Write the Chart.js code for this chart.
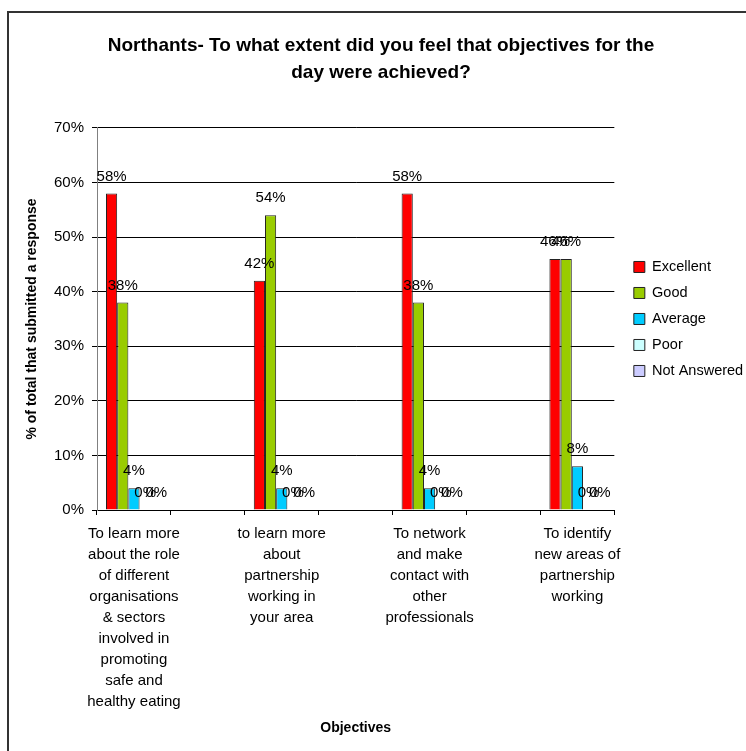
<!DOCTYPE html>
<html>
<head>
<meta charset="utf-8">
<script src="https://cdn.jsdelivr.net/npm/chart.js@4.4.1/dist/chart.umd.min.js"></script>
<style>
    html, body { margin: 0; padding: 0; background: #fff; overflow: hidden; width: 746px; height: 751px; }
    #frame { position: absolute; left: 7px; top: 11px; width: 800px; height: 800px;
             border-left: 2px solid #333; border-top: 2px solid #333; }
    #chart { position: absolute; left: 0; top: 0; }
</style>
</head>
<body>
<div id="frame"></div>
<canvas id="chart" width="762" height="751"></canvas>
<script>
const objectives = [
    ["To learn more", "about the role", "of different", "organisations", "& sectors", "involved in", "promoting", "safe and", "healthy eating"],
    ["to learn more", "about", "partnership", "working in", "your area"],
    ["To network", "and make", "contact with", "other", "professionals"],
    ["To identify", "new areas of", "partnership", "working"]
];
const excellent   = [58, 42, 58, 46];
const good        = [38, 54, 38, 46];
const average     = [4, 4, 4, 8];
const poor        = [0, 0, 0, 0];
const notAnswered = [0, 0, 0, 0];
const yTicks = [0, 10, 20, 30, 40, 50, 60, 70];

// the original sheet has an empty category between each objective
function spread(arr, blank) {
    const out = [];
    arr.forEach(function (v, i) {
        if (i > 0) out.push(blank);
        out.push(v);
    });
    return out;
}

const font = 'Arial, "Liberation Sans", sans-serif';
Chart.defaults.font.family = font;
Chart.defaults.color = "#000";

const barLabels = {
    id: "barLabels",
    afterDatasetsDraw(chart) {
        const ctx = chart.ctx;
        ctx.save();
        ctx.font = "15px " + font;
        ctx.fillStyle = "#000";
        ctx.textAlign = "center";
        ctx.textBaseline = "middle";
        chart.data.datasets.forEach(function (ds, i) {
            chart.getDatasetMeta(i).data.forEach(function (bar, j) {
                const v = ds.data[j];
                if (v === null) return;
                ctx.fillText(v + "%", bar.x, bar.y - 17);
            });
        });
        ctx.restore();
    }
};

function series(label, data, color) {
    return {
        label: label,
        data: spread(data, null),
        backgroundColor: color,
        borderColor: "#222",
        borderWidth: 1,
        barPercentage: 1,
        categoryPercentage: 0.757
    };
}

const chart = new Chart(document.getElementById("chart"), {
    type: "bar",
    data: {
        labels: spread(objectives, ""),
        datasets: [
            series("Excellent", excellent, "#FF0000"),
            series("Good", good, "#99CC00"),
            series("Average", average, "#00CCFF"),
            series("Poor", poor, "#CCFFFF"),
            series("Not Answered", notAnswered, "#CCCCFF")
        ]
    },
    options: {
        responsive: false,
        animation: false,
        devicePixelRatio: 1,
        layout: { padding: { left: 19, right: 19, top: 0, bottom: 0 } },
        plugins: {
            title: {
                display: true,
                text: ["Northants- To what extent did you feel that objectives for the", "day were achieved?"],
                font: { size: 19, weight: "bold", lineHeight: 1.42 },
                color: "#000",
                padding: { top: 32, bottom: 42 }
            },
            legend: {
                position: "right",
                fullSize: false,
                labels: { boxWidth: 11, boxHeight: 11, padding: 11.5, font: { size: 14.5 }, color: "#000" }
            },
            tooltip: { enabled: false }
        },
        scales: {
            x: {
                offset: true,
                grid: { offset: true, drawOnChartArea: false, drawTicks: true, tickLength: 5, color: "#000" },
                border: { color: "#000", width: 1 },
                ticks: { autoSkip: false, maxRotation: 0, minRotation: 0, padding: 8,
                         font: { size: 15, lineHeight: 1.4 }, color: "#000" },
                title: { display: true, text: "Objectives", font: { size: 14, weight: "bold" },
                         color: "#000", padding: { top: 8, bottom: 14 } },
                afterFit: function (s) { s.height = 241; }
            },
            y: {
                min: 0,
                max: 70,
                afterBuildTicks: function (s) { s.ticks = yTicks.map(function (v) { return { value: v }; }); },
                grid: { color: "#000", tickLength: 5 },
                border: { color: "#808080", width: 1 },
                ticks: { padding: 8, font: { size: 15 }, color: "#000",
                         callback: function (v) { return v + "%"; } },
                title: { display: true, text: "% of total that submitted a response",
                         font: { size: 14, weight: "bold" }, color: "#000", padding: { top: 5, bottom: 0 } },
                afterFit: function (s) { s.width = 78; }
            },
            gap: {
                type: "linear",
                position: "right",
                display: true,
                grid: { display: false },
                ticks: { display: false },
                border: { display: false },
                afterFit: function (s) { s.width = 8; }
            }
        }
    },
    plugins: [barLabels]
});
</script>
</body>
</html>
